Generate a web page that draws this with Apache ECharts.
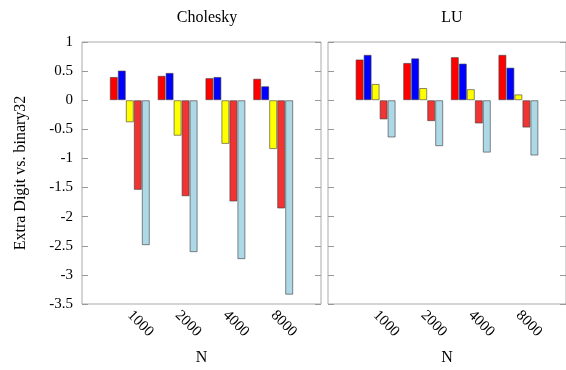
<!DOCTYPE html>
<html>
<head>
<meta charset="utf-8">
<script src="https://cdn.jsdelivr.net/npm/echarts@6/dist/echarts.min.js"></script>
<style>
html, body { margin: 0; padding: 0; background: #fff; }
#main { width: 566px; height: 370px; }
</style>
</head>
<body>
<div id="main"></div>
<script>
var categories = ['1000', '2000', '4000', '8000'];
var yTicks = [-3.5, 1, 0.5];   // min, max, step

// Cholesky
var cholRed       = [0.40, 0.42, 0.38, 0.37];
var cholBlue      = [0.51, 0.47, 0.40, 0.24];
var cholYellow    = [-0.38, -0.61, -0.75, -0.84];
var cholRed2      = [-1.54, -1.65, -1.74, -1.86];
var cholLightBlue = [-2.49, -2.61, -2.73, -3.34];

// LU
var luRed       = [0.70, 0.64, 0.74, 0.78];
var luBlue      = [0.78, 0.72, 0.63, 0.56];
var luYellow    = [0.28, 0.21, 0.19, 0.10];
var luRed2      = [-0.33, -0.36, -0.40, -0.47];
var luLightBlue = [-0.64, -0.79, -0.90, -0.95];

var colors = ['#ff0000', '#0000ff', '#ffff00', '#f03434', '#add8e6'];
var font = 'Liberation Serif';

// empty slots at both ends so the groups sit at 1..4 of a 0..5 range
function pad(arr) { return [null].concat(arr, [null]); }
var xData = pad(categories).map(function (c) { return c === null ? '' : c; });

function xAxis(idx) {
    return {
        type: 'category', gridIndex: idx, data: xData, boundaryGap: false,
        axisLine: { show: false }, axisTick: { show: false },
        axisLabel: { rotate: -45, margin: 9, fontFamily: font, fontSize: 15, color: '#000', interval: 0 },
        name: 'N', nameLocation: 'middle', nameGap: 46,
        nameTextStyle: { fontFamily: font, fontSize: 16, color: '#000' }
    };
}
function yAxis(idx, pos, labels) {
    var a = {
        type: 'value', gridIndex: idx, position: pos,
        min: yTicks[0], max: yTicks[1], interval: yTicks[2],
        splitLine: { show: false },
        axisLine: { show: false },
        axisTick: { show: true, inside: true, length: 6, lineStyle: { color: '#999' } },
        axisLabel: { show: labels, margin: 9, fontFamily: font, fontSize: 15, color: '#000' }
    };
    if (labels) {
        a.name = 'Extra Digit vs. binary32';
        a.nameLocation = 'middle';
        a.nameGap = 53;
        a.nameTextStyle = { fontFamily: font, fontSize: 16, color: '#000' };
    }
    return a;
}
function bars(list, idx) {
    return list.map(function (arr, i) {
        return {
            type: 'bar', xAxisIndex: idx, yAxisIndex: idx * 2,
            data: pad(arr), barWidth: 8, barGap: '0%',
            itemStyle: { color: colors[i], borderColor: 'rgba(60,60,60,0.6)', borderWidth: 1 }
        };
    });
}

var myChart = echarts.init(document.getElementById('main'));
var option = {
    animation: false,
    title: [
        { text: 'Cholesky', left: 202, top: 5, textAlign: 'center',
          textStyle: { fontFamily: font, fontSize: 16, fontWeight: 'normal', color: '#000' } },
        { text: 'LU', left: 447, top: 5, textAlign: 'center',
          textStyle: { fontFamily: font, fontSize: 16, fontWeight: 'normal', color: '#000' } }
    ],
    grid: [
        { left: 82, top: 42, width: 239, height: 262, outerBoundsMode: 'none',
          show: true, borderColor: '#aaa', borderWidth: 1 },
        { left: 328, top: 42, width: 238, height: 262, outerBoundsMode: 'none',
          show: true, borderColor: '#aaa', borderWidth: 1 }
    ],
    xAxis: [xAxis(0), xAxis(1)],
    yAxis: [yAxis(0, 'left', true), yAxis(0, 'right', false), yAxis(1, 'left', false), yAxis(1, 'right', false)],
    series: bars([cholRed, cholBlue, cholYellow, cholRed2, cholLightBlue], 0)
        .concat(bars([luRed, luBlue, luYellow, luRed2, luLightBlue], 1))
};
// LU series use y axis index 2
option.series.forEach(function (s) { if (s.xAxisIndex === 1) s.yAxisIndex = 2; });
myChart.setOption(option);
</script>
</body>
</html>
